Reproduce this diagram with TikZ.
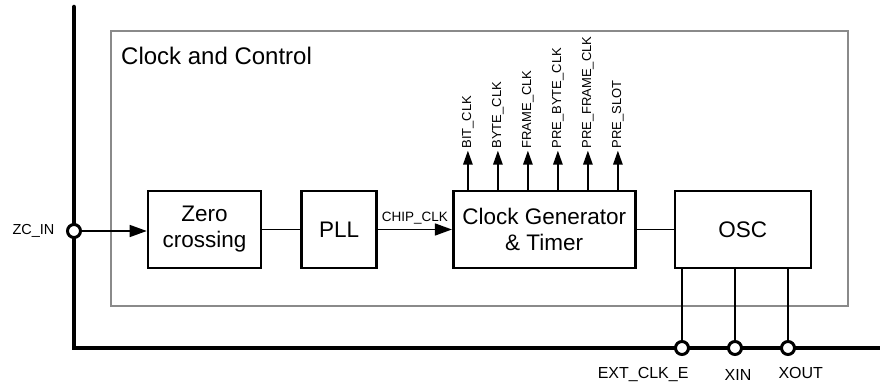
\documentclass[tikz,border=0pt]{standalone}
\usepackage{fontspec}
\setmainfont{Liberation Sans}
\usetikzlibrary{arrows.meta,positioning}
\definecolor{framegray}{HTML}{8A8A8A}

\tikzset{
  blockbox/.style={draw, line width=2.6pt, inner sep=0pt, align=center,
    font=\fontsize{22.5}{26}\selectfont, minimum height=77pt},
  sig/.style={line width=1.5pt},
  sigarrow/.style={sig, -{Triangle[length=17pt,width=12pt]}},
  taparrow/.style={sig, -{Triangle[length=14pt,width=9.5pt]}},
  pinc/.style={circle, draw, fill=white, line width=3pt, minimum size=13pt, inner sep=0pt},
  pinlbl/.style={inner sep=0pt, font=\fontsize{16}{18}\selectfont},
  outlbl/.style={anchor=west, rotate=90, inner sep=2pt, font=\fontsize{13}{15}\selectfont},
  chipline/.style={line width=4.5pt, line cap=round}
}

\begin{document}
\begin{tikzpicture}[x=1pt, y=1pt]
  \useasboundingbox (0,0) rectangle (880,385);

  % chip boundary
  \coordinate (chiptop) at (74,378);
  \coordinate (chipcorner) at (74,37);
  \coordinate (chipend) at (882,37);
  \draw[chipline] (chiptop) -- (chipcorner) -- (chipend);

  % clock and control block
  \node[draw=framegray, line width=2pt, minimum width=737pt, minimum height=275pt,
    inner sep=0pt] (ctrl) at (479.5,216.5) {};
  \node[anchor=north west, inner sep=0pt, font=\fontsize{24}{28}\selectfont]
    (title) at ([xshift=11pt, yshift=-17pt]ctrl.north west) {Clock and Control};

  % blocks
  \node[blockbox, minimum width=113pt] (zc) at (204.5,155.5) {Zero\\crossing};
  \node[blockbox, minimum width=75pt, right=38pt of zc] (pll) {PLL};
  \node[blockbox, minimum width=182pt, right=74pt of pll] (clkgen) {Clock Generator\\\& Timer};
  \node[blockbox, minimum width=136pt, right=37pt of clkgen] (osc) {OSC};

  % zero crossing input
  \node[pinc] (zcin) at (74,154) {};
  \node[left=8pt of zcin, font=\fontsize{14.5}{17}\selectfont] (zcinlbl) {ZC\_IN};
  \draw[sigarrow] (zcin) -- (zc.west |- zcin);

  \draw[sig] (zc) -- (pll);
  \draw[sigarrow] (pll) -- (clkgen)
    node[midway, above, yshift=3pt, inner sep=2pt, font=\fontsize{13.5}{16}\selectfont] (chipclk) {CHIP\_CLK};
  \draw[sig] (clkgen) -- (osc);

  % clock outputs
  \foreach \lab [count=\i from 0] in {BIT\_CLK,BYTE\_CLK,FRAME\_CLK,PRE\_BYTE\_CLK,PRE\_FRAME\_CLK,PRE\_SLOT} {
    \coordinate (tap\i) at ([xshift={16+30*\i}]clkgen.north west);
    \node[outlbl] (out\i) at ([yshift=39pt]tap\i) {\lab};
    \draw[taparrow] (tap\i) -- (out\i.west);
  }

  % oscillator pins
  \node[pinc] (extclk) at (682,37) {};
  \node[pinc] (xin) at (735,37) {};
  \node[pinc] (xout) at (788,37) {};
  \draw[sig] (extclk) -- (extclk |- osc.south);
  \draw[sig] (xin) -- (xin |- osc.south);
  \draw[sig] (xout) -- (xout |- osc.south);
  \node[pinlbl, anchor=north east] (extclklbl) at ([xshift=1pt, yshift=-13pt]extclk.south east) {EXT\_CLK\_E};
  \node[pinlbl, anchor=north] (xinlbl) at ([xshift=3pt, yshift=-13pt]xin.south) {XIN};
  \node[pinlbl, anchor=north west] (xoutlbl) at ([xshift=-4pt, yshift=-13pt]xout.south west) {XOUT};
\end{tikzpicture}
\end{document}
